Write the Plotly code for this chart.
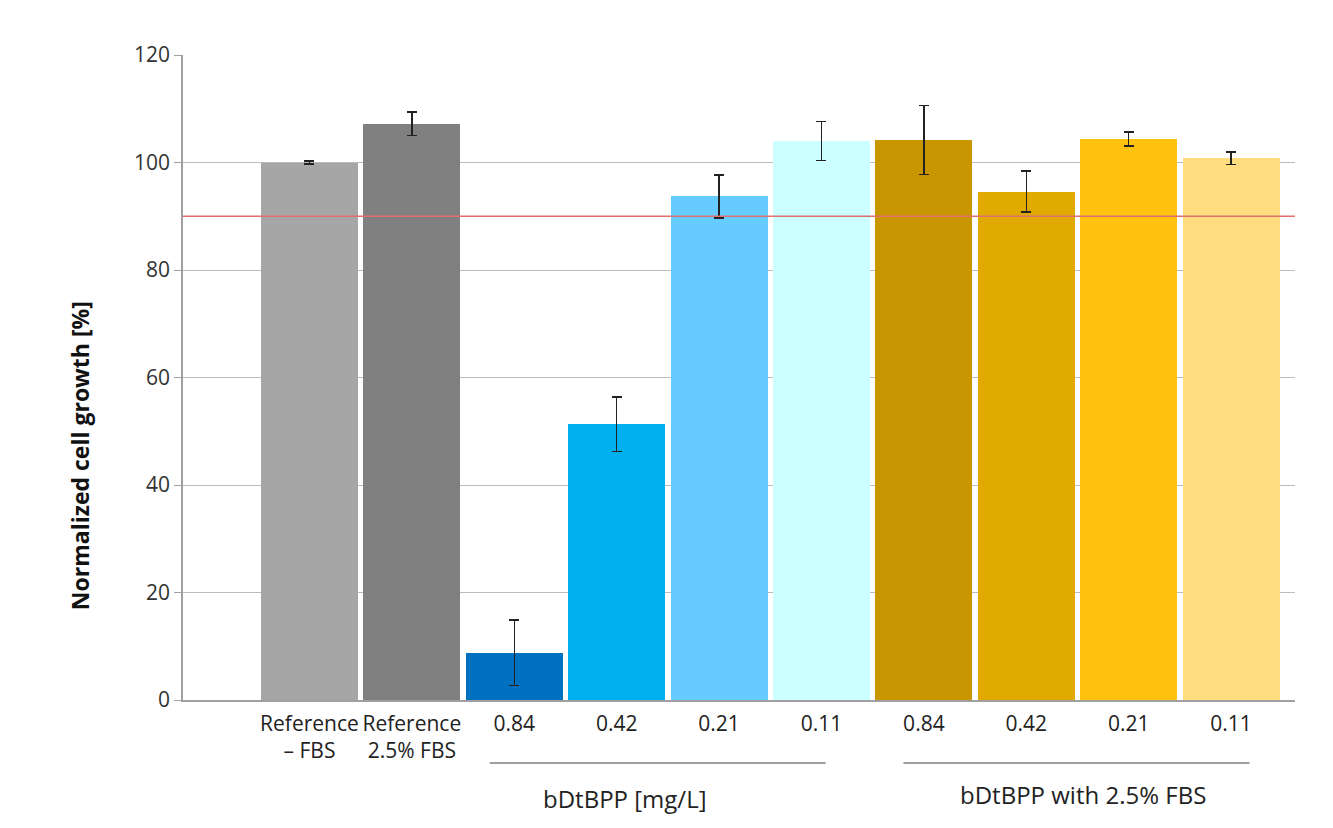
import plotly.graph_objects as go

categories = ["Reference<br>– FBS", "Reference<br>2.5% FBS", "0.84", "0.42", "0.21", "0.11",
              "0.84", "0.42", "0.21", "0.11"]
growth = [100.0, 107.2, 8.8, 51.3, 93.7, 104.0, 104.2, 94.6, 104.4, 100.8]
errors = [0.3, 2.2, 6.1, 5.1, 4.0, 3.6, 6.4, 3.8, 1.3, 1.2]
bar_colors = ["#A6A6A6", "#808080", "#0070C0", "#00B0F0", "#66CCFF", "#CCFFFF",
              "#C89600", "#E0AA00", "#FFC20E", "#FFDD7F"]
threshold = 90
group_labels = ["bDtBPP [mg/L]", "bDtBPP with 2.5% FBS"]
y_title = "<b>Normalized cell growth [%]</b>"
y_ticks = [0, 20, 40, 60, 80, 100, 120]

xpos = list(range(len(categories)))

fig = go.Figure()
fig.add_trace(go.Bar(
    x=xpos, y=growth, width=0.947,
    marker=dict(color=bar_colors, line=dict(width=0)),
    error_y=dict(type="data", array=errors, visible=True, color="#222222", thickness=1.5, width=5),
    showlegend=False,
))

fig.add_shape(type="line", xref="paper", yref="y", x0=0, x1=1, y0=threshold, y1=threshold,
              line=dict(color="#E07070", width=1.5))

# group underlines
fig.add_shape(type="line", xref="x", yref="paper", x0=1.76, x1=5.04, y0=-0.0977, y1=-0.0977,
              line=dict(color="#404040", width=1.2))
fig.add_shape(type="line", xref="x", yref="paper", x0=5.80, x1=9.18, y0=-0.0977, y1=-0.0977,
              line=dict(color="#404040", width=1.2))

fig.add_annotation(x=3.08, y=-0.153, xref="x", yref="paper", text=group_labels[0], showarrow=False,
                   font=dict(size=24, color="#222222", family="Open Sans"), yanchor="middle")
fig.add_annotation(x=7.55, y=-0.147, xref="x", yref="paper", text=group_labels[1], showarrow=False,
                   font=dict(size=24, color="#222222", family="Open Sans"), yanchor="middle")

# y-axis title (placed lower than centre, as in the original)
fig.add_annotation(x=-0.0926, y=0.378, xref="paper", yref="paper", text=y_title, showarrow=False,
                   textangle=-90, xanchor="center", yanchor="middle",
                   font=dict(size=23, color="#111111", family="Open Sans"))

fig.update_layout(
    width=1333, height=828,
    margin=dict(l=175, r=46, t=47, b=136),
    plot_bgcolor="white", paper_bgcolor="white",
    font=dict(family="Open Sans", color="#222222"),
    xaxis=dict(
        range=[-1.235, 9.624],
        tickmode="array", tickvals=xpos, ticktext=categories,
        tickfont=dict(size=21, color="#222222"),
        showgrid=False, zeroline=False,
        showline=True, linecolor="#A0A0A0", linewidth=1.5,
        ticks="", ticklabelstandoff=4,
    ),
    yaxis=dict(
        range=[0, 120], tickvals=y_ticks,
        tickfont=dict(size=21, color="#333333"),
        showgrid=True, gridcolor="#BBBBBB", gridwidth=1.2,
        zeroline=False,
        showline=True, linecolor="#A0A0A0", linewidth=1.5,
        ticks="outside", ticklen=7, tickcolor="#A0A0A0",
    ),
    bargap=0,
)

fig.write_html("out.html")
